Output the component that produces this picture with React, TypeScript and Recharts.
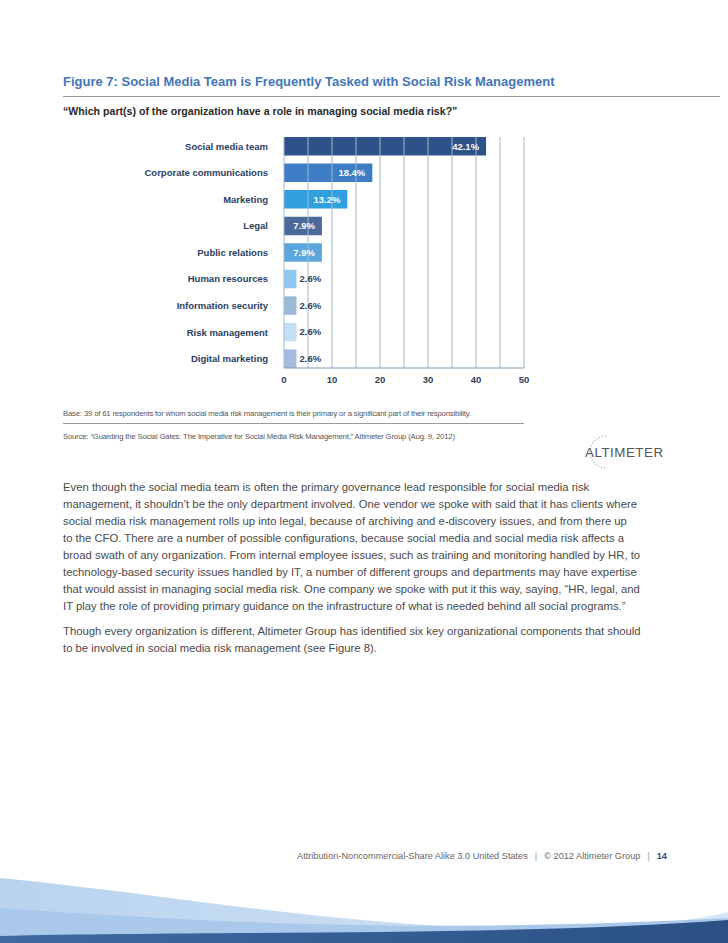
import React from "react";
import { Bar, BarChart, Cell, LabelList, ReferenceLine, XAxis, YAxis } from "recharts";

const departments = [
  "Social media team",
  "Corporate communications",
  "Marketing",
  "Legal",
  "Public relations",
  "Human resources",
  "Information security",
  "Risk management",
  "Digital marketing",
];
const shares = [42.1, 18.4, 13.2, 7.9, 7.9, 2.6, 2.6, 2.6, 2.6];
const axisTicks = [0, 10, 20, 30, 40, 50];
const gridTicks = [0, 5, 10, 15, 20, 25, 30, 35, 40, 45, 50];

const barColors = ["#2d5189", "#3d7cc7", "#2f9fe0", "#4a6a9c", "#5aa6dd", "#8fc8ee", "#9cbad8", "#c3def5", "#a6b9e0"];

const bodyPara1 = [
  "Even though the social media team is often the primary governance lead responsible for social media risk",
  "management, it shouldn\u2019t be the only department involved. One vendor we spoke with said that it has clients where",
  "social media risk management rolls up into legal, because of archiving and e-discovery issues, and from there up",
  "to the CFO. There are a number of possible configurations, because social media and social media risk affects a",
  "broad swath of any organization. From internal employee issues, such as training and monitoring handled by HR, to",
  "technology-based security issues handled by IT, a number of different groups and departments may have expertise",
  "that would assist in managing social media risk. One company we spoke with put it this way, saying, \u201cHR, legal, and",
  "IT play the role of providing primary guidance on the infrastructure of what is needed behind all social programs.\u201d",
];
const bodyPara2 = [
  "Though every organization is different, Altimeter Group has identified six key organizational components that should",
  "to be involved in social media risk management (see Figure 8).",
];

const rows = departments.map((name, i) => ({ name, share: shares[i] }));

const FONT = '"Liberation Sans", Arial, Helvetica, sans-serif';
const NAVY = "#2b3e5e";

const ValueLabel = (props: any) => {
  const { x, y, width, height, value } = props;
  const inside = value >= 5;
  return (
    <text
      x={inside ? x + width - 7 : x + width + 3}
      y={y + height / 2}
      dy="0.35em"
      textAnchor={inside ? "end" : "start"}
      fill={inside ? "#ffffff" : NAVY}
      fontSize={9.5}
      fontWeight="bold"
      fontFamily={FONT}
    >
      {`${Number(value).toFixed(1)}%`}
    </text>
  );
};

const Logo = () => (
  <svg width={100} height={40} style={{ position: "absolute", left: 570, top: 432 }}>
    <path
      d="M 36 4 A 16 16 0 1 0 36 36"
      fill="none"
      stroke="#6f9fc4"
      strokeWidth={1.2}
      strokeDasharray="0.8 2.2"
    />
    <text x={15} y={25} fontFamily={FONT} fontSize={13.4} fill="#555" letterSpacing={0.5}>
      ALTIMETER
    </text>
  </svg>
);

const Footer = () => (
  <svg width={728} height={113} style={{ position: "absolute", left: 0, top: 830 }}>
    <defs>
      <linearGradient id="lightWave" x1="0" y1="0" x2="1" y2="0">
        <stop offset="0%" stopColor="#b9d3ef" />
        <stop offset="100%" stopColor="#d5e6f7" />
      </linearGradient>
      <linearGradient id="darkWave" x1="0" y1="0" x2="1" y2="0">
        <stop offset="0%" stopColor="#3e6aa1" />
        <stop offset="100%" stopColor="#2b5184" />
      </linearGradient>
    </defs>
    <path d="M0,48 C150,62 330,95 500,98 C600,100 680,94 728,82 L728,113 L0,113 Z" fill="url(#lightWave)" />
    <path d="M0,78 C200,92 420,104 728,88 L728,113 L0,113 Z" fill="#a9c8ea" />
    <path d="M0,106 C200,101 520,106 728,90 L728,113 L0,113 Z" fill="url(#darkWave)" />
    <text x={297} y={29} fontFamily={FONT} fontSize={9.2} fill="#666">
      Attribution-Noncommercial-Share Alike 3.0 United States
      <tspan dx={7} fill="#999">|</tspan>
      <tspan dx={7}>© 2012 Altimeter Group</tspan>
      <tspan dx={7} fill="#999">|</tspan>
      <tspan dx={7} fill="#2b4a7a" fontWeight="bold">
        14
      </tspan>
    </text>
  </svg>
);

export default function App() {
  return (
    <div
      style={{
        position: "absolute",
        left: 0,
        top: 0,
        width: 728,
        height: 943,
        background: "#fff",
        fontFamily: FONT,
        overflow: "hidden",
      }}
    >
      <div style={{ position: "absolute", left: 63, top: 74, fontSize: 13, fontWeight: "bold", color: "#4275b8" }}>
        Figure 7: Social Media Team is Frequently Tasked with Social Risk Management
      </div>
      <div style={{ position: "absolute", left: 63, top: 96, width: 657, height: 1, background: "#9a9a9a" }} />
      <div style={{ position: "absolute", left: 63, top: 105, fontSize: 10.6, fontWeight: "bold", color: "#2a2a2a" }}>
        {"\u201cWhich part(s) of the organization have a role in managing social media risk?\u201d"}
      </div>

      <div style={{ position: "absolute", left: 0, top: 120 }}>
        <BarChart
          width={560}
          height={280}
          data={rows}
          layout="vertical"
          margin={{ top: 17, right: 36, bottom: 0, left: 0 }}
          barSize={18.5}
        >
          <XAxis
            type="number"
            domain={[0, 50]}
            ticks={axisTicks}
            height={32}
            tickLine={false}
            axisLine={{ stroke: "#7d98b1", strokeWidth: 1 }}
            tick={{ fill: NAVY, fontSize: 9.5, fontWeight: "bold", fontFamily: FONT }}
          />
          <YAxis
            type="category"
            dataKey="name"
            width={284}
            tickLine={false}
            axisLine={false}
            tickMargin={10}
            padding={{ top: -4, bottom: -4 }}
            tick={{ fill: NAVY, fontSize: 9.5, fontWeight: "bold", fontFamily: FONT }}
            interval={0}
          />
          {gridTicks.map((v) => (
            <ReferenceLine key={v} x={v} stroke="#a3b7c9" strokeWidth={1} />
          ))}
          <Bar dataKey="share" isAnimationActive={false}>
            {rows.map((r, i) => (
              <Cell key={r.name} fill={barColors[i]} />
            ))}
            <LabelList dataKey="share" content={ValueLabel} />
          </Bar>
        </BarChart>
      </div>

      <div style={{ position: "absolute", left: 63, top: 409, fontSize: 7.7, color: "#555", letterSpacing: -0.15 }}>
        Base: 39 of 61 respondents for whom social media risk management is their primary or a significant part of
        their responsibility.
      </div>
      <div style={{ position: "absolute", left: 63, top: 423, width: 461, height: 1, background: "#9a9a9a" }} />
      <div style={{ position: "absolute", left: 63, top: 432, fontSize: 7.7, color: "#555", letterSpacing: -0.15 }}>
        Source: {"\u201cGuarding the Social Gates: The Imperative for Social Media Risk Management,\u201d"} Altimeter Group
        (Aug. 9, 2012)
      </div>
      <Logo />

      <div style={{ position: "absolute", left: 63, top: 479, fontSize: 11.3, lineHeight: "17px", color: "#4a4a4a" }}>
        {bodyPara1.map((l) => (
          <div key={l} style={{ whiteSpace: "nowrap" }}>
            {l}
          </div>
        ))}
        <div style={{ height: 8 }} />
        {bodyPara2.map((l) => (
          <div key={l} style={{ whiteSpace: "nowrap" }}>
            {l}
          </div>
        ))}
      </div>

      <Footer />
    </div>
  );
}
